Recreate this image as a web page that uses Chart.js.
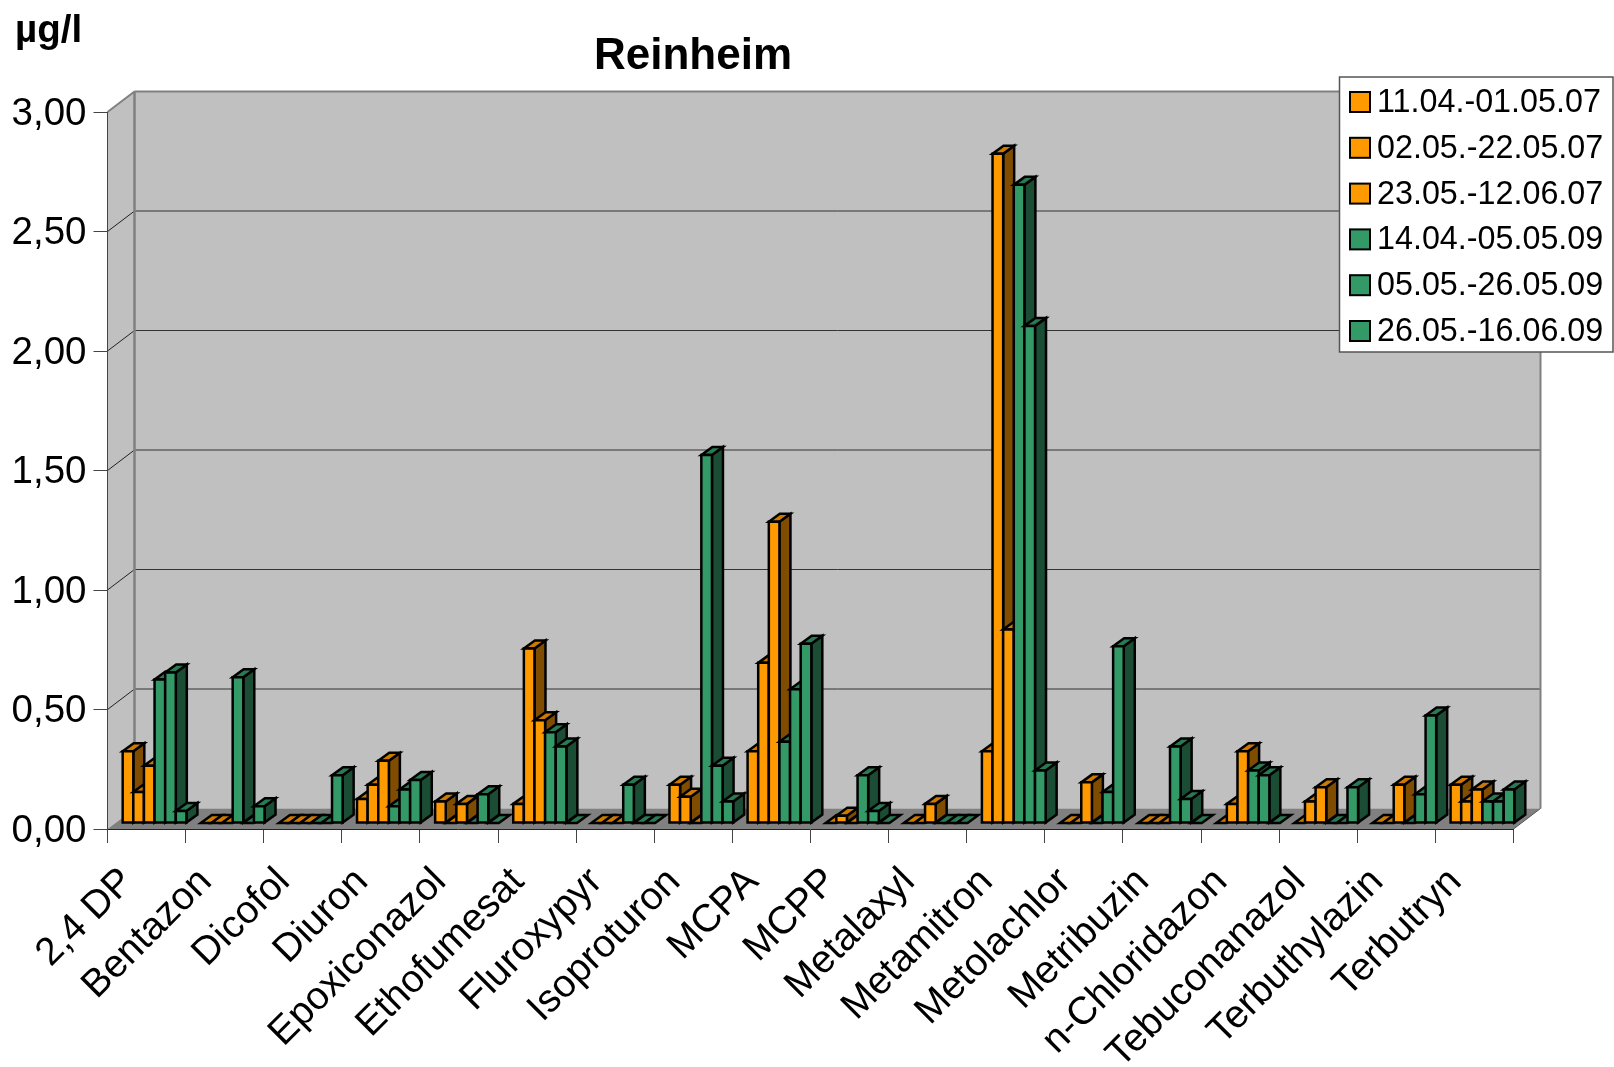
<!DOCTYPE html>
<html>
<head>
<meta charset="utf-8">
<title>Reinheim</title>
<script src="https://cdn.jsdelivr.net/npm/chart.js@4"></script>
<style>
  html, body { margin: 0; padding: 0; background: #fff; }
  canvas { display: block; }
</style>
</head>
<body>
<canvas id="chart" width="1614" height="1067"></canvas>
<script>
// Data
var categories = ['2,4 DP', 'Bentazon', 'Dicofol', 'Diuron', 'Epoxiconazol', 'Ethofumesat', 'Fluroxypyr', 'Isoproturon', 'MCPA', 'MCPP', 'Metalaxyl', 'Metamitron', 'Metolachlor', 'Metribuzin', 'n-Chloridazon', 'Tebuconanazol', 'Terbuthylazin', 'Terbutryn'];
var period1 = [0.30, 0, 0, 0.10, 0.09, 0.08, 0, 0.16, 0.30, 0, 0, 0.30, 0, 0, 0, 0, 0, 0.16];
var period2 = [0.13, 0, 0, 0.16, 0, 0.73, 0, 0.11, 0.67, 0.03, 0, 2.80, 0, 0, 0.08, 0.09, 0, 0.09];
var period3 = [0.24, 0, 0, 0.26, 0.08, 0.43, 0, 0, 1.26, 0, 0.08, 0.81, 0.17, 0, 0.30, 0.15, 0.16, 0.14];
var period4 = [0.60, 0.61, 0, 0.07, 0, 0.38, 0.16, 1.54, 0.34, 0.20, 0, 2.67, 0, 0.32, 0.22, 0, 0, 0.09];
var period5 = [0.63, 0, 0, 0.14, 0.12, 0.32, 0, 0.24, 0.56, 0.05, 0, 2.08, 0.13, 0.10, 0.20, 0, 0.12, 0.09];
var period6 = [0.05, 0.07, 0.20, 0.18, 0, 0, 0, 0.09, 0.75, 0, 0, 0.22, 0.74, 0, 0, 0.15, 0.45, 0.14];
var seriesLabels = ['11.04.-01.05.07', '02.05.-22.05.07', '23.05.-12.06.07', '14.04.-05.05.09', '05.05.-26.05.09', '26.05.-16.06.09'];
var yTickLabels = ['0,00', '0,50', '1,00', '1,50', '2,00', '2,50', '3,00'];
var titleText = 'Reinheim';
var unitText = 'µg/l';

// Colors
var orange = { front: '#ff9900', top: '#cc7a00', side: '#7f4c00' };
var green = { front: '#339966', top: '#297a52', side: '#1a4d33' };
var seriesColors = [orange, orange, orange, green, green, green];
var fontFamily = '"Liberation Sans", Arial, sans-serif';

// 3D offsets
var wallDx = 27, wallDy = 20.5;   // front plane to back wall
var planeDx = 8, planeDy = 6;     // front plane to bar fronts
var barDx = 11, barDy = 8;        // depth of one bar

function line(ctx, x1, y1, x2, y2, color, width) {
  ctx.strokeStyle = color;
  ctx.lineWidth = width;
  ctx.beginPath();
  ctx.moveTo(x1, y1);
  ctx.lineTo(x2, y2);
  ctx.stroke();
}

function poly(ctx, pts, fill, stroke, width) {
  ctx.beginPath();
  ctx.moveTo(pts[0][0], pts[0][1]);
  for (var i = 1; i < pts.length; i++) ctx.lineTo(pts[i][0], pts[i][1]);
  ctx.closePath();
  ctx.fillStyle = fill;
  ctx.fill();
  if (stroke) {
    ctx.strokeStyle = stroke;
    ctx.lineWidth = width;
    ctx.stroke();
  }
}

// Back wall, side wall, floor and the grid on them
var wallsPlugin = {
  id: 'walls',
  beforeDraw: function(chart) {
    var ctx = chart.ctx, a = chart.chartArea, y = chart.scales.y;
    ctx.save();
    ctx.fillStyle = '#fff';
    ctx.fillRect(0, 0, chart.width, chart.height);
    poly(ctx, [[a.left + wallDx, a.top - wallDy], [a.right + wallDx, a.top - wallDy], [a.right + wallDx, a.bottom - wallDy], [a.left + wallDx, a.bottom - wallDy]], '#c0c0c0');
    poly(ctx, [[a.left, a.top], [a.left + wallDx, a.top - wallDy], [a.left + wallDx, a.bottom - wallDy], [a.left, a.bottom]], '#c0c0c0');
    poly(ctx, [[a.left, a.bottom], [a.left + wallDx, a.bottom - wallDy], [a.right + wallDx, a.bottom - wallDy], [a.right, a.bottom]], '#808080');
    y.ticks.forEach(function(t) {
      if (t.value === 0 || t.value === 3) return;
      var py = y.getPixelForValue(t.value);
      line(ctx, a.left, py, a.left + wallDx, py - wallDy, '#222', 1);
      line(ctx, a.left + wallDx, py - wallDy, a.right + wallDx, py - wallDy, '#333', 1);
    });
    line(ctx, a.left, a.top, a.left + wallDx, a.top - wallDy, '#808080', 2);
    line(ctx, a.left + wallDx, a.top - wallDy, a.right + wallDx, a.top - wallDy, '#808080', 2);
    line(ctx, a.left + wallDx, a.top - wallDy, a.left + wallDx, a.bottom - wallDy, '#808080', 2.5);
    line(ctx, a.right + wallDx, a.top - wallDy, a.right + wallDx, a.bottom - wallDy, '#808080', 2);
    line(ctx, a.right, a.bottom, a.right + wallDx, a.bottom - wallDy, '#555', 1);
    ctx.restore();
  },
  // the native bars are replaced by their 3D version below
  beforeDatasetDraw: function() {
    return false;
  },
  afterDatasetsDraw: function(chart) {
    var ctx = chart.ctx;
    ctx.save();
    ctx.translate(planeDx, -planeDy);
    ctx.lineJoin = 'miter';
    for (var c = 0; c < categories.length; c++) {
      for (var d = 0; d < chart.data.datasets.length; d++) {
        var p = chart.getDatasetMeta(d).data[c].getProps(['x', 'y', 'base', 'width'], true);
        var col = seriesColors[d];
        var l = p.x - p.width / 2, r = p.x + p.width / 2, t = p.y, b = p.base;
        if (b - t > 0.5) {
          poly(ctx, [[r, t], [r + barDx, t - barDy], [r + barDx, b - barDy], [r, b]], col.side, '#000', 2.5);
        }
        poly(ctx, [[l, t], [l + barDx, t - barDy], [r + barDx, t - barDy], [r, t]], col.top, '#000', 2.5);
        if (b - t > 0.5) {
          poly(ctx, [[l, t], [r, t], [r, b], [l, b]], col.front, '#000', 2.5);
        }
      }
    }
    ctx.restore();
  },
  // Title, unit and the legend box
  afterDraw: function(chart) {
    var ctx = chart.ctx;
    ctx.save();
    ctx.fillStyle = '#000';
    ctx.textBaseline = 'alphabetic';
    ctx.font = 'bold 44px ' + fontFamily;
    ctx.textAlign = 'center';
    ctx.fillText(titleText, 693, 69);
    ctx.font = 'bold 38.5px ' + fontFamily;
    ctx.textAlign = 'left';
    ctx.fillText(unitText, 15, 42);

    ctx.fillStyle = '#fff';
    ctx.strokeStyle = '#555';
    ctx.lineWidth = 1.5;
    ctx.fillRect(1339.5, 77, 273.5, 275);
    ctx.strokeRect(1339.5, 77, 273.5, 275);

    ctx.font = '32.3px ' + fontFamily;
    ctx.textBaseline = 'middle';
    seriesLabels.forEach(function(label, i) {
      var cy = 102 + i * 45.8;
      ctx.fillStyle = seriesColors[i].front;
      ctx.fillRect(1350, cy - 10, 20, 20);
      ctx.strokeStyle = '#000';
      ctx.lineWidth = 2;
      ctx.strokeRect(1350, cy - 10, 20, 20);
      ctx.fillStyle = '#000';
      ctx.fillText(label, 1377, cy + 1);
    });
    ctx.restore();
  }
};

var datasets = [period1, period2, period3, period4, period5, period6].map(function(values, i) {
  return {
    label: seriesLabels[i],
    data: values,
    backgroundColor: seriesColors[i].front,
    borderColor: '#000',
    borderWidth: 2,
    categoryPercentage: 0.816,
    barPercentage: 1
  };
});

var reinheimChart = new Chart(document.getElementById('chart'), {
  type: 'bar',
  data: { labels: categories, datasets: datasets },
  plugins: [wallsPlugin],
  options: {
    responsive: false,
    animation: false,
    layout: { padding: { top: 112, right: 100.5, left: 0, bottom: 0 } },
    plugins: {
      legend: { display: false },
      title: { display: false },
      tooltip: { enabled: false }
    },
    scales: {
      x: {
        grid: { drawOnChartArea: false, tickLength: 14, tickColor: '#444', tickWidth: 1, offset: true },
        border: { color: '#222', width: 1 },
        afterFit: function(s) { s.height = 238; },
        ticks: {
          autoSkip: false,
          maxRotation: 45,
          minRotation: 45,
          padding: 16,
          labelOffset: -19,
          color: '#000',
          font: { family: fontFamily, size: 39 }
        }
      },
      y: {
        min: 0,
        max: 3,
        grid: { drawOnChartArea: false, tickLength: 14, tickColor: '#444', tickWidth: 1 },
        border: { color: '#444', width: 1 },
        afterFit: function(s) { s.width = 107.5; },
        ticks: {
          stepSize: 0.5,
          padding: 7,
          labelOffset: 2,
          color: '#000',
          font: { family: fontFamily, size: 38.5 },
          callback: function(value, index) { return yTickLabels[index]; }
        }
      }
    }
  }
});
</script>
</body>
</html>
